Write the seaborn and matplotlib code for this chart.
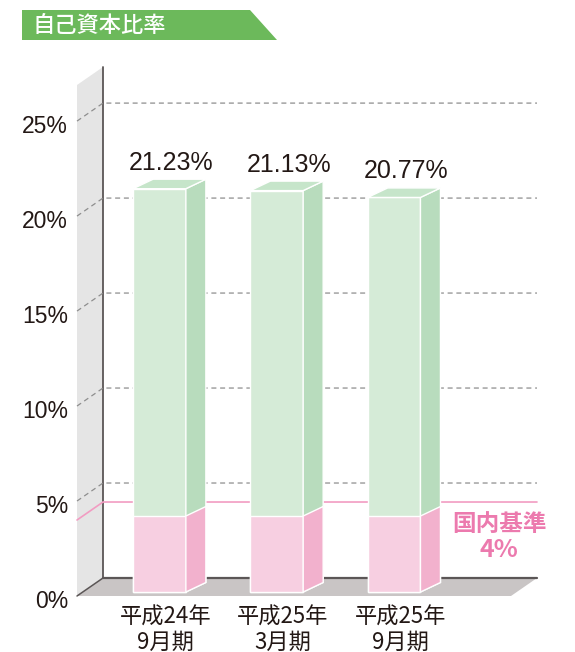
import matplotlib
matplotlib.use("Agg")
import numpy as np
import pandas as pd
import matplotlib.pyplot as plt
from matplotlib.patches import Polygon
import seaborn as sns

# values
periods = ["平成24年\n9月期", "平成25年\n3月期", "平成25年\n9月期"]
ratios = [21.23, 21.13, 20.77]
domestic_standard = 4.0
y_ticks = [0, 5, 10, 15, 20, 25]
title = "自己資本比率"
standard_label = "国内基準"

df = pd.DataFrame({"period": periods, "ratio": ratios,
                   "standard": [domestic_standard] * len(periods)})

sns.set_style("white")
plt.rcParams["font.family"] = ["Liberation Sans", "Noto Sans CJK JP", "DejaVu Sans"]

green_front, green_side, green_top = "#d5ebd7", "#b8dcbd", "#c6e5ca"
pink_front, pink_side = "#f7cfe1", "#f2b1cd"
pink_line, pink_text = "#f29cc2", "#ec7aae"
wall_c, floor_c, edge_c, grid_c = "#e5e5e5", "#c9c5c5", "#5b5656", "#8e8e8e"
text_c = "#231815"

W, H = 575, 652
fig = plt.figure(figsize=(W / 100, H / 100), dpi=100)

# axes box = back wall plane (pixels)
left_px, right_px, base_px, top_px = 103, 537, 578, 67
ax = fig.add_axes([left_px / W, 1 - base_px / H,
                   (right_px - left_px) / W, (base_px - top_px) / H])

sns.barplot(data=df, x="period", y="ratio", color=green_front, saturation=1,
            width=0.45, edgecolor="white", linewidth=1, ax=ax, zorder=3)
sns.barplot(data=df, x="period", y="standard", color=pink_front, saturation=1,
            width=0.45, edgecolor="white", linewidth=1, ax=ax, zorder=3)
bars = list(ax.patches)

x_lo, x_hi, y_top = -0.652, 3.048, 26.9
ax.set_xlim(x_lo, x_hi)
ax.set_ylim(0, y_top)
ax.axis("off")

sx = (right_px - left_px) / (x_hi - x_lo)
sy = (base_px - top_px) / y_top


def off(dx, dy):
    # pixel shift (right, down) -> data shift
    return dx / sx, -dy / sy


def poly(pts, fc, z, ec="none", lw=0):
    ax.add_patch(Polygon(pts, closed=True, fc=fc, ec=ec, lw=lw, zorder=z, clip_on=False))


def line(xs, ys, **kw):
    ax.plot(xs, ys, clip_on=False, **kw)


wall = off(-26, 18)
front = off(-20, 14)
depth = off(20, -9.5)

# side wall and floor
poly([(x_lo, 0), (x_lo, y_top), (x_lo + wall[0], y_top + wall[1]),
      (x_lo + wall[0], wall[1])], wall_c, 0.5)
poly([(x_lo, 0), (x_hi, 0), (x_hi + wall[0], wall[1]),
      (x_lo + wall[0], wall[1])], floor_c, 0.5)
line([x_lo, x_lo], [0, y_top], color=edge_c, lw=1.3, zorder=1)
line([x_lo, x_hi], [0, 0], color=edge_c, lw=1.6, zorder=1)
line([x_lo + wall[0], x_lo], [wall[1], 0], color=edge_c, lw=1.1, zorder=1)

for t in y_ticks:
    if t > 0:
        line([x_lo + wall[0], x_lo, x_hi], [t + wall[1], t, t], color=grid_c,
             lw=0.9, ls=(0, (4, 3)), zorder=1)
    ax.text(x_lo + wall[0] - 9 / sx, t + wall[1] - 5 / sy, f"{t}%", ha="right",
            va="center", fontsize=16.5, color=text_c)

line([x_lo + wall[0], x_lo, x_hi],
     [domestic_standard + wall[1], domestic_standard, domestic_standard],
     color=pink_line, lw=1.2, zorder=1)
ax.text(x_hi - 38 / sx, domestic_standard - 22 / sy, standard_label, ha="center",
        va="center", fontsize=17, color=pink_text, family="Noto Sans CJK JP",
        fontweight="bold")
ax.text(x_hi - 38 / sx, domestic_standard - 48 / sy, f"{domestic_standard:.0f}%",
        ha="center", va="center", fontsize=18, color=pink_text, family="Noto Sans CJK JP",
        fontweight="bold")

# shift seaborn's bars to the front plane and add the 3d faces
for k, rect in enumerate(bars):
    rect.set_x(rect.get_x() + front[0])
    rect.set_y(rect.get_y() + front[1])
    rect.set_clip_on(False)
    x0, y0, w, h = rect.get_x(), rect.get_y(), rect.get_width(), rect.get_height()
    is_green = k < len(periods)
    z = 3 if is_green else 3.5
    rect.set_zorder(z)
    poly([(x0 + w, y0), (x0 + w + depth[0], y0 + depth[1]),
          (x0 + w + depth[0], y0 + h + depth[1]), (x0 + w, y0 + h)],
         green_side if is_green else pink_side, z, ec="white", lw=1)
    if is_green:
        poly([(x0, y0 + h), (x0 + depth[0], y0 + h + depth[1]),
              (x0 + w + depth[0], y0 + h + depth[1]), (x0 + w, y0 + h)],
             green_top, z, ec="white", lw=1)

for i, (p, r) in enumerate(zip(periods, ratios)):
    ax.text(i + front[0] + 12 / sx, r + front[1] + 19 / sy, f"{r:.2f}%", ha="center",
            va="baseline", fontsize=18, color=text_c)
    ax.text(i + front[0] + 6 / sx, front[1] - 37.5 / sy, p, ha="center", va="center",
            fontsize=16, color=text_c, family="Noto Sans CJK JP", linespacing=1.1)

# title banner
fig.patches.append(Polygon([(22 / W, 1 - 10 / H), (250 / W, 1 - 10 / H),
                            (277 / W, 1 - 40 / H), (22 / W, 1 - 40 / H)],
                           closed=True, fc="#6cb95b", ec="none",
                           transform=fig.transFigure, figure=fig))
fig.text(33 / W, 1 - 25 / H, title, ha="left", va="center", fontsize=16,
         color="white", family="Noto Sans CJK JP", fontweight="medium")

fig.savefig("out.png", dpi=100)
